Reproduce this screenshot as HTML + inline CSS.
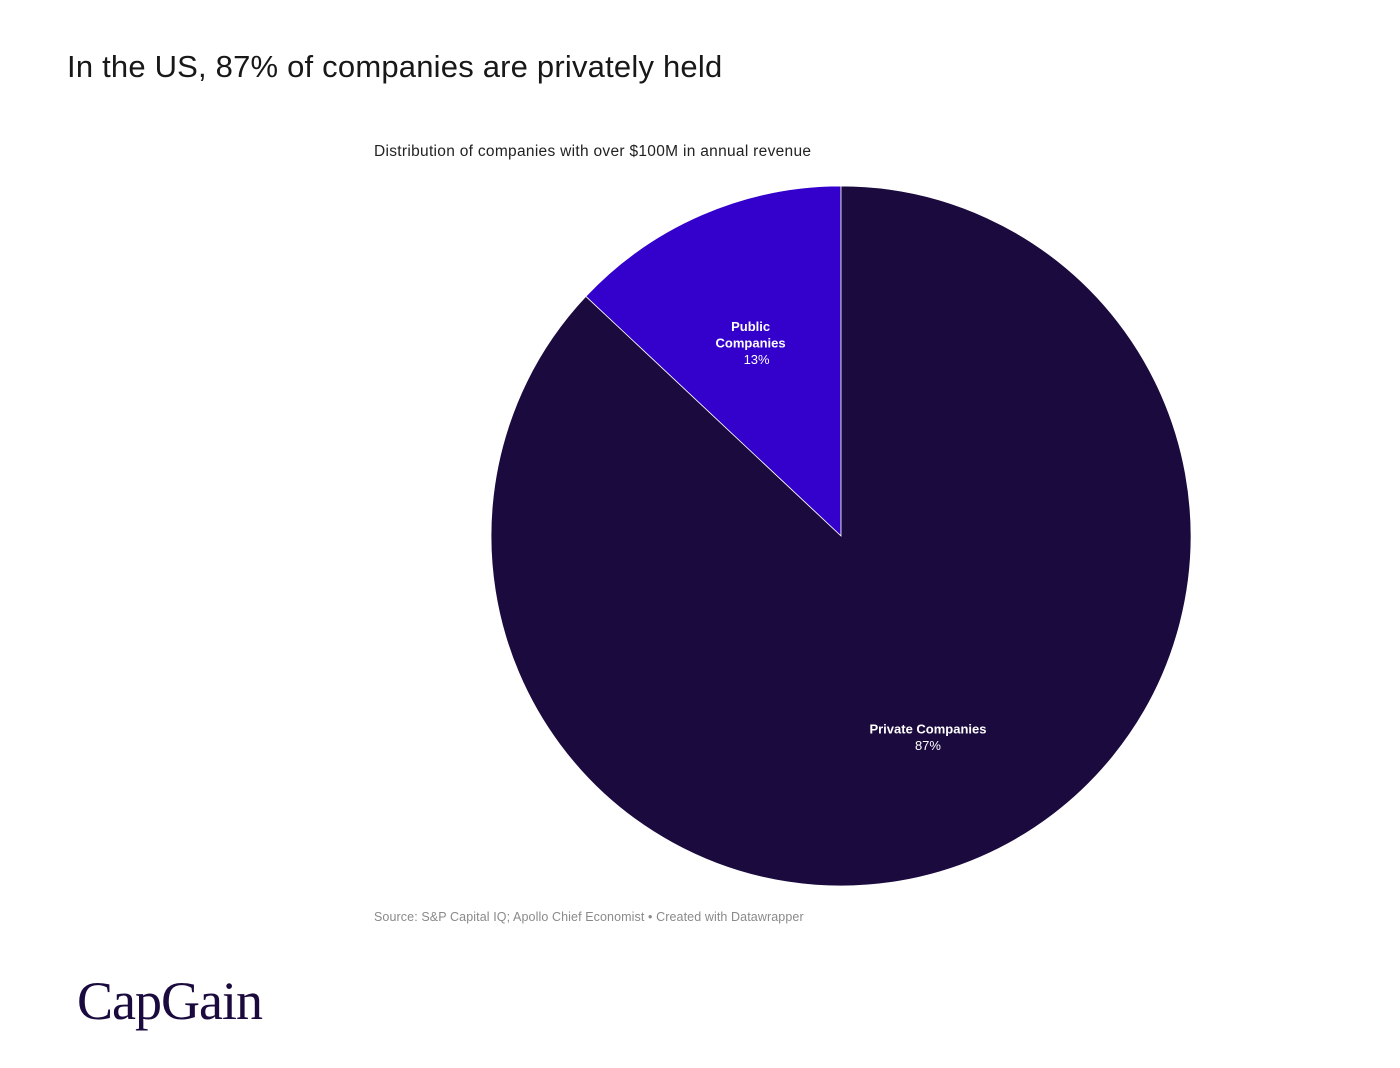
<!DOCTYPE html>
<html><head><meta charset="utf-8"><style>
body{margin:0;width:1400px;height:1068px;background:#fff;font-family:"Liberation Sans",sans-serif;position:relative;overflow:hidden}
.t{position:absolute;white-space:nowrap}
</style></head><body>
<div class="t" style="left:67px;top:49px;font-size:31px;color:#181818;letter-spacing:0.2px">In the US, 87% of companies are privately held</div>
<div class="t" style="left:374px;top:143px;font-size:15.5px;color:#222;letter-spacing:0.3px">Distribution of companies with over $100M in annual revenue</div>
<svg id="pie" width="1400" height="1068" style="position:absolute;left:0;top:0"></svg>
<div class="t" style="left:374px;top:910px;font-size:12.5px;color:#8a8a8a;letter-spacing:0.1px">Source: S&amp;P Capital IQ; Apollo Chief Economist • Created with Datawrapper</div>
<div class="t" style="left:77px;top:970px;font-family:'Liberation Serif',serif;font-size:54px;color:#1b0a3e;letter-spacing:-1px">CapGain</div>
<script>
const categories=["Public Companies","Private Companies"];
const values=[13,87];
const labels=["13%","87%"];
const colors=["#3300cc","#1b0a3e"];
const svg=document.getElementById('pie');
const NS="http://www.w3.org/2000/svg";
const cx=841,cy=536,r=350;
const total=values.reduce((a,b)=>a+b,0);
let start=0;
function pt(a,rr){return [cx+rr*Math.sin(a),cy-rr*Math.cos(a)];}
values.forEach((v,i)=>{
  const sweep=v/total*2*Math.PI;
  const a0=-start, a1=-(start+sweep);
  const p0=pt(a0,r),p1=pt(a1,r);
  const large=sweep>Math.PI?1:0;
  const path=document.createElementNS(NS,'path');
  path.setAttribute('d',`M${cx},${cy} L${p0[0]},${p0[1]} A${r},${r} 0 ${large} 0 ${p1[0]},${p1[1]} Z`);
  path.setAttribute('fill',colors[i]);
  path.setAttribute('stroke','#fff');
  path.setAttribute('stroke-width','0.8');
  
  
  svg.appendChild(path);
  const mid=-(start+sweep/2);
  const lr=i===0?r*0.6:r*0.64;
  const lp=pt(mid,lr);
  const lx=lp[0]-(i===0?7:2);
  const g=document.createElementNS(NS,'g');
  
  
  const lines=i===0?["Public","Companies"]:[categories[i]];
  const lh=16.5;
  const y0=lp[1]-(lines.length*lh)/2+(i===0?4:0);
  lines.forEach((s,k)=>{
    const t=document.createElementNS(NS,'text');
    t.setAttribute('x',lx);t.setAttribute('y',y0+k*lh);
    t.setAttribute('text-anchor','middle');t.setAttribute('fill','#fff');
    t.setAttribute('font-size','13');t.setAttribute('font-weight','bold');
    t.textContent=s;g.appendChild(t);
  });
  const t=document.createElementNS(NS,'text');
  t.setAttribute('x',lx+(i===0?6:0));t.setAttribute('y',y0+lines.length*lh);
  t.setAttribute('text-anchor','middle');t.setAttribute('fill','#fff');
  t.setAttribute('font-size','13');
  t.textContent=labels[i];g.appendChild(t);
  svg.appendChild(g);
  start+=sweep;
});
</script>
</body></html>
